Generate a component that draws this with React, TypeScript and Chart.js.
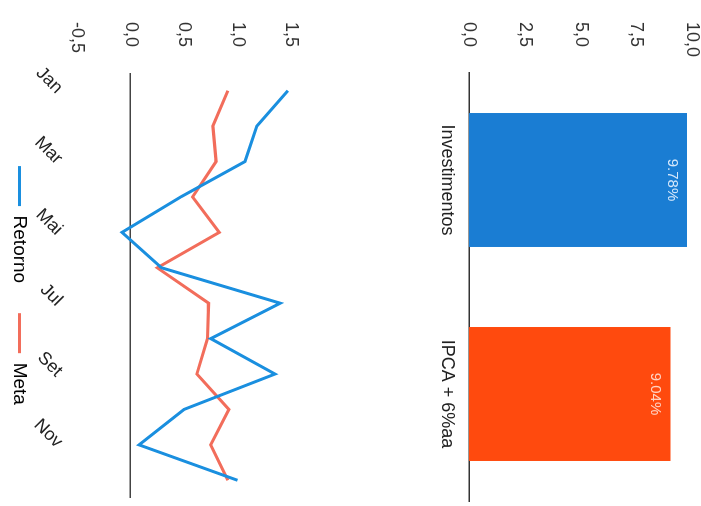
import React, { useEffect, useRef } from 'react';
import { Chart, registerables } from 'chart.js';

Chart.register(...registerables);

// ---- Bar chart data ----
const barCategories = ['Investimentos', 'IPCA + 6%aa'];
const barValues = [9.78, 9.04];
const barLabels = ['9.78%', '9.04%'];
const barColors = ['#1a7dd3', '#ff4a0e'];
const barLabelColors = ['rgba(235,244,255,0.9)', 'rgba(255,225,215,0.9)'];
const barTicks = [0, 2.5, 5, 7.5, 10];

// ---- Line chart data ----
const months = ['Jan', 'Fev', 'Mar', 'Abr', 'Mai', 'Jun', 'Jul', 'Ago', 'Set', 'Out', 'Nov', 'Dez'];
const retorno = [1.47, 1.18, 1.07, 0.47, -0.08, 0.29, 1.4, 0.75, 1.35, 0.5, 0.08, 1.0];
const meta = [0.91, 0.77, 0.8, 0.58, 0.83, 0.25, 0.73, 0.72, 0.62, 0.92, 0.75, 0.91];
const lineTicks = [-0.5, 0, 0.5, 1, 1.5];

const FONT = "'Liberation Sans', Arial, Helvetica, sans-serif";
const fmt = (v: number) => Number(v).toFixed(1).replace('.', ',');

export default function App() {
  const barRef = useRef<HTMLCanvasElement>(null);
  const lineRef = useRef<HTMLCanvasElement>(null);

  useEffect(() => {
    document.body.style.margin = '0';
    Chart.defaults.font.family = FONT;

    const valueLabelPlugin = {
      id: 'valueLabels',
      afterDatasetsDraw(chart: any) {
        const ctx = chart.ctx;
        const m = chart.getDatasetMeta(0);
        ctx.save();
        ctx.font = `15px ${FONT}`;
        ctx.textAlign = 'center';
        ctx.textBaseline = 'middle';
        m.data.forEach((bar: any, i: number) => {
          ctx.fillStyle = barLabelColors[i];
          ctx.fillText(barLabels[i], bar.x, bar.y + 15);
        });
        ctx.restore();
      },
    };

    const bar = new Chart(barRef.current as HTMLCanvasElement, {
      type: 'bar',
      data: {
        labels: barCategories,
        datasets: [
          {
            data: barValues,
            backgroundColor: barColors,
            categoryPercentage: 1,
            barPercentage: 0.626,
          },
        ],
      },
      options: {
        animation: false,
        responsive: false,
        layout: { padding: { top: 29, left: 22, right: 5, bottom: 0 } },
        plugins: { legend: { display: false }, tooltip: { enabled: false } },
        scales: {
          x: {
            grid: { display: false, drawTicks: false },
            border: { display: true, color: '#333', width: 1.5 },
            ticks: { color: '#222', font: { size: 18 }, padding: 11 },
            afterFit: (s: any) => {
              s.height = 58;
            },
          },
          y: {
            min: 0,
            max: 10,
            afterBuildTicks: (s: any) => {
              s.ticks = barTicks.map((v) => ({ value: v }));
            },
            grid: { display: false, drawTicks: false },
            border: { display: false },
            ticks: {
              crossAlign: 'far',
              color: '#333',
              font: { size: 18 },
              callback: (v: any) => fmt(v),
            },
            afterFit: (s: any) => {
              s.width = 51;
            },
          },
        },
      } as any,
      plugins: [valueLabelPlugin],
    });

    const line = new Chart(lineRef.current as HTMLCanvasElement, {
      type: 'line',
      data: {
        labels: months,
        datasets: [
          {
            label: 'Retorno',
            data: retorno,
            borderColor: '#1a8fdf',
            backgroundColor: '#1a8fdf',
            borderWidth: 3,
            pointRadius: 0,
            tension: 0,
          },
          {
            label: 'Meta',
            data: meta,
            borderColor: '#f26d5b',
            backgroundColor: '#f26d5b',
            borderWidth: 3,
            pointRadius: 0,
            tension: 0,
          },
        ],
      },
      options: {
        animation: false,
        responsive: false,
        layout: { padding: { top: 120, left: 22, right: 8, bottom: 0 } },
        plugins: {
          tooltip: { enabled: false },
          legend: {
            position: 'bottom',
            fullSize: false,
            labels: {
              boxWidth: 40,
              boxHeight: 3,
              padding: 30,
              color: '#222',
              font: { size: 19 },
              generateLabels: (chart: any) =>
                chart.data.datasets.map((ds: any, i: number) => ({
                  text: ds.label,
                  fillStyle: ds.borderColor,
                  strokeStyle: ds.borderColor,
                  lineWidth: 0,
                  hidden: false,
                  datasetIndex: i,
                })),
            },
          },
        },
        scales: {
          x: {
            offset: true,
            grid: { display: false, drawTicks: false },
            border: { display: false },
            ticks: {
              autoSkip: false,
              minRotation: 45,
              maxRotation: 45,
              padding: 10,
              color: '#222',
              font: { size: 18 },
              callback: (_v: any, i: number) => (i % 2 === 0 ? months[i] : ''),
            },
            afterFit: (s: any) => {
              s.height = 18;
              // let rotated month labels overflow into the legend band
              s._computeLabelArea = () => undefined;
            },
          },
          y: {
            min: -0.5,
            max: 1.5,
            afterBuildTicks: (s: any) => {
              s.ticks = lineTicks.map((v) => ({ value: v }));
            },
            grid: {
              drawTicks: false,
              lineWidth: 1.5,
              color: (c: any) => (c.tick && c.tick.value === 0 ? '#444' : 'rgba(0,0,0,0)'),
            },
            border: { display: false },
            ticks: {
              crossAlign: 'far',
              color: '#333',
              font: { size: 18 },
              callback: (v: any) => fmt(v),
            },
            afterFit: (s: any) => {
              s.width = 51;
            },
          },
        },
      } as any,
    });

    return () => {
      bar.destroy();
      line.destroy();
    };
  }, []);

  return (
    <div
      style={{
        position: 'fixed',
        left: 0,
        top: 0,
        width: 701,
        height: 506,
        overflow: 'hidden',
        background: '#fff',
      }}
    >
      <div
        style={{
          position: 'absolute',
          left: 0,
          top: 0,
          width: 506,
          height: 701,
          transformOrigin: '0 0',
          transform: 'translateX(701px) rotate(90deg)',
        }}
      >
        <canvas
          ref={barRef}
          width={506}
          height={310}
          style={{ position: 'absolute', left: 0, top: -20, width: 506, height: 310 }}
        />
        <canvas
          ref={lineRef}
          width={506}
          height={411}
          style={{ position: 'absolute', left: 0, top: 290, width: 506, height: 411 }}
        />
      </div>
    </div>
  );
}
